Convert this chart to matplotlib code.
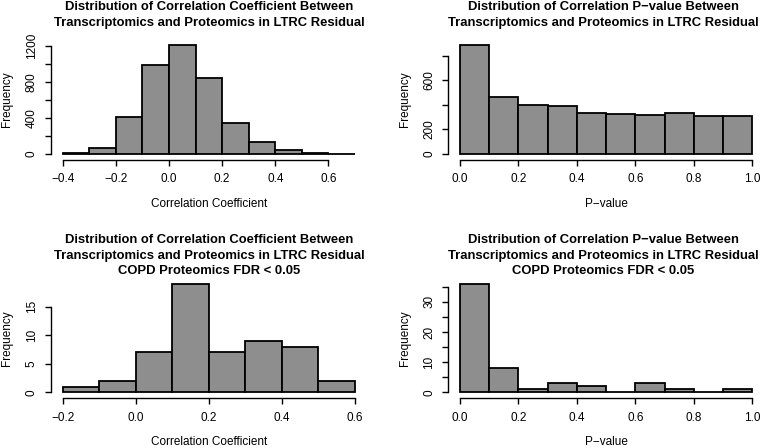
import numpy as np
import matplotlib.pyplot as plt

plt.rcParams['font.family'] = ['Liberation Sans', 'DejaVu Sans']

# histogram data (bin edges + counts)
coef_breaks = [-0.4, -0.3, -0.2, -0.1, 0.0, 0.1, 0.2, 0.3, 0.4, 0.5, 0.6, 0.7]
coef_counts = [5, 62, 405, 990, 1210, 838, 342, 128, 38, 12, 3]

pval_breaks = [0.0, 0.1, 0.2, 0.3, 0.4, 0.5, 0.6, 0.7, 0.8, 0.9, 1.0]
pval_counts = [887, 465, 394, 386, 329, 325, 313, 329, 307, 307]

fdr_coef_breaks = [-0.2, -0.1, 0.0, 0.1, 0.2, 0.3, 0.4, 0.5, 0.6]
fdr_coef_counts = [1, 2, 7, 19, 7, 9, 8, 2]

fdr_pval_breaks = [0.0, 0.1, 0.2, 0.3, 0.4, 0.5, 0.6, 0.7, 0.8, 0.9, 1.0]
fdr_pval_counts = [36, 8, 1, 3, 2, 0, 3, 1, 0, 1]

title_a = ["Distribution of Correlation Coefficient Between",
           "Transcriptomics and Proteomics in LTRC Residual"]
title_b = ["Distribution of Correlation P\u2212value Between",
           "Transcriptomics and Proteomics in LTRC Residual"]
sub = "COPD Proteomics FDR < 0.05"

W, H = 765, 448
fig = plt.figure(figsize=(W / 100, H / 100), dpi=100)

fill = '#8e8e8e'


def rhist(rect, breaks, counts, xticks, xlabels, yticks, ylabels, xlab):
    l, t, r, b = rect
    ax = fig.add_axes([l / W, 1 - b / H, (r - l) / W, (b - t) / H])
    breaks = np.array(breaks)
    counts = np.array(counts)
    ax.bar(breaks[:-1], counts, width=np.diff(breaks), align='edge',
           color=fill, edgecolor='black', linewidth=1.3)
    x0, x1 = breaks[0], breaks[-1]
    ymax = counts.max()
    ax.set_xlim(x0 - 0.04 * (x1 - x0), x1 + 0.04 * (x1 - x0))
    ax.set_ylim(-0.04 * ymax, 1.04 * ymax)
    for s in ['top', 'right']:
        ax.spines[s].set_visible(False)
    ax.spines['left'].set_bounds(yticks[0], yticks[-1])
    ax.spines['bottom'].set_bounds(xticks[0], xticks[-1])
    ax.spines['bottom'].set_position(('outward', 1.2))
    for s in ['left', 'bottom']:
        ax.spines[s].set_linewidth(1.0)
    ax.set_xticks(xticks)
    ax.set_xticklabels(xlabels, fontsize=8.5)
    ax.set_yticks(yticks)
    ax.set_yticklabels(ylabels, fontsize=8.5, rotation=90, va='center')
    ax.tick_params(length=4.5, width=1.0, pad=5)
    ax.set_xlabel(xlab, fontsize=8.5, labelpad=9)
    ax.set_ylabel('Frequency', fontsize=8.5, labelpad=9)
    ax.patch.set_visible(False)
    return ax


def fmt(vals):
    return [('\u2212' if v < 0 else '') + f"{abs(v):.1f}" for v in vals]


left_col = (51, 366.7)
right_col = (448.3, 764)

# top-left
xt = [-0.4, -0.2, 0.0, 0.2, 0.4, 0.6]
rhist((left_col[0], 40.5, left_col[1], 158.2), coef_breaks, coef_counts,
      xt, fmt(xt), [0, 200, 400, 600, 800, 1000, 1200],
      ['0', '', '400', '', '800', '', '1200'], 'Correlation Coefficient')

# top-right
xt = [0.0, 0.2, 0.4, 0.6, 0.8, 1.0]
rhist((right_col[0], 40.5, right_col[1], 158.2), pval_breaks, pval_counts,
      xt, fmt(xt), [0, 200, 400, 600, 800],
      ['0', '200', '', '600', ''], 'P\u2212value')

# bottom-left
xt = [-0.2, 0.0, 0.2, 0.4, 0.6]
rhist((left_col[0], 279.4, left_col[1], 396.7), fdr_coef_breaks, fdr_coef_counts,
      xt, fmt(xt), [0, 5, 10, 15], ['0', '5', '10', '15'], 'Correlation Coefficient')

# bottom-right
xt = [0.0, 0.2, 0.4, 0.6, 0.8, 1.0]
rhist((right_col[0], 279.4, right_col[1], 396.7), fdr_pval_breaks, fdr_pval_counts,
      xt, fmt(xt), [0, 5, 10, 15, 20, 25, 30, 35],
      ['0', '', '10', '', '20', '', '30', ''], 'P\u2212value')


def title(xc, lines, ys):
    for line, y in zip(lines, ys):
        fig.text(xc / W, 1 - y / H, line, ha='center', va='center',
                 fontsize=9.4, fontweight='bold')


cl = sum(left_col) / 2
cr = sum(right_col) / 2 - 3
title(cl, title_a, [7.5, 22.7])
title(cr, title_b, [7.5, 22.7])
title(cl, title_a + [sub], [240, 255.7, 270.7])
title(cr, title_b + [sub], [240, 255.7, 270.7])

fig.savefig('out.png', dpi=100)
